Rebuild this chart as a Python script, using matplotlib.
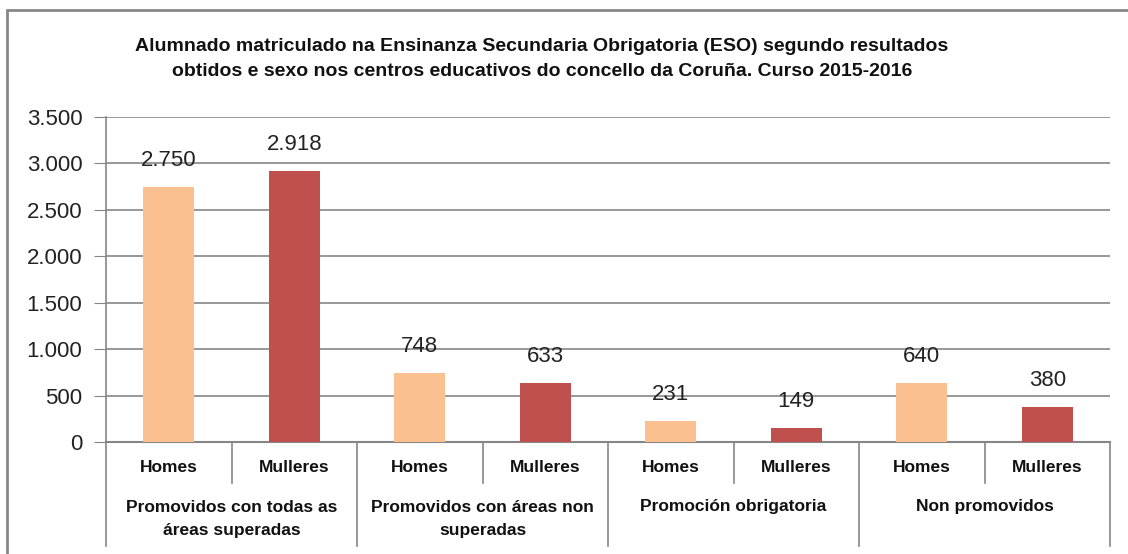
import matplotlib.pyplot as plt
from matplotlib.patches import Rectangle
import matplotlib.transforms as mtransforms

# data
groups = ['Promovidos con todas as\náreas superadas', 'Promovidos con áreas non\nsuperadas',
          'Promoción obrigatoria', 'Non promovidos']
sexes = ['Homes', 'Mulleres']
homes = [2750, 748, 231, 640]
mulleres = [2918, 633, 149, 380]
yticks = [0, 500, 1000, 1500, 2000, 2500, 3000, 3500]
title = ('Alumnado matriculado na Ensinanza Secundaria Obrigatoria (ESO) segundo resultados\n'
         'obtidos e sexo nos centros educativos do concello da Coruña. Curso 2015-2016')

c_homes = '#FAC090'
c_mull = '#C0504D'
grid_c = '#868686'

plt.rcParams['font.family'] = ['Liberation Sans', 'DejaVu Sans']

W, H = 1128, 554
fig = plt.figure(figsize=(W / 100, H / 100), dpi=100)
ax = fig.add_axes([106 / W, 1 - 442 / H, (1110 - 106) / W, (442 - 117) / H])

values = []
colors = []
for h, m in zip(homes, mulleres):
    values += [h, m]
    colors += [c_homes, c_mull]
xs = list(range(len(values)))

ax.bar(xs, values, width=0.41, color=colors, zorder=3)
for x, v in zip(xs, values):
    ax.annotate(f'{v:,}'.replace(',', '.'), (x, v), xytext=(0, 19), textcoords='offset points',
                ha='center', va='center', fontsize=16, color='#222222')

ax.set_xlim(-0.5, len(values) - 0.5)
ax.set_ylim(0, 3500)
ax.set_yticks(yticks)
ax.set_yticklabels([f'{t:,}'.replace(',', '.') for t in yticks], fontsize=16, color='#222222')
ax.tick_params(axis='y', length=9, color=grid_c, pad=8)
ax.set_xticks([])
ax.grid(axis='y', color=grid_c, linewidth=1.2, zorder=0)
for s in ['top', 'right']:
    ax.spines[s].set_visible(False)
ax.spines['left'].set_color(grid_c)
ax.spines['bottom'].set_color(grid_c)
ax.spines['left'].set_linewidth(1.2)
ax.spines['bottom'].set_linewidth(1.5)

# two-level category axis
trans = mtransforms.blended_transform_factory(ax.transData, fig.transFigure)
y_axis = 1 - 442 / H
y_short = 1 - 483 / H
y_long = 1 - 546 / H
for i in range(len(values) + 1):
    xb = i - 0.5
    y_end = y_long if i % 2 == 0 else y_short
    ax.plot([xb, xb], [y_axis, y_end], color=grid_c, lw=1.2, transform=trans, clip_on=False)
for x in xs:
    fig.text(x, 1 - 468 / H, sexes[x % 2], transform=trans, ha='center', va='center',
             fontsize=12.5, fontweight='bold', color='#111111')
for g, name in enumerate(groups):
    y = 1 - (519 if '\n' in name else 507) / H
    fig.text(2 * g + 0.5, y, name, transform=trans, ha='center', va='center',
             fontsize=12.5, fontweight='bold', color='#111111', linespacing=1.65)

fig.text(542 / W, 1 - 59 / H, title, ha='center', va='center', fontsize=14,
         fontweight='bold', color='#111111', linespacing=1.6)

# chart border
fig.patches.append(Rectangle((7 / W, -0.1), 1.2, 1 - 10 / H + 0.1, transform=fig.transFigure,
                             fill=False, edgecolor='#878787', linewidth=2))

fig.savefig('out.png', dpi=100)
